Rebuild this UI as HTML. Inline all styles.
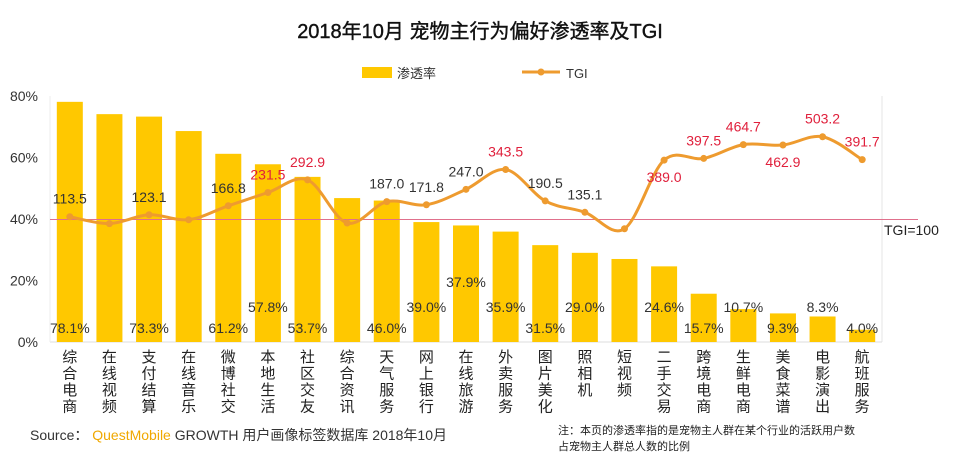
<!DOCTYPE html>
<html><head><meta charset="utf-8"><style>
body{margin:0;background:#fff;}
svg text{font-family:"Liberation Sans","Noto Sans CJK SC",sans-serif;}
</style></head><body>
<svg id="chart" width="960" height="458" viewBox="0 0 960 458" xmlns="http://www.w3.org/2000/svg">
<rect x="0" y="0" width="960" height="458" fill="#fff"/>
<text x="480" y="38" text-anchor="middle" font-size="20" fill="#111" stroke="#111" stroke-width="0.4">2018年10月 宠物主行为偏好渗透率及TGI</text>
<g>
<rect x="362" y="67" width="30" height="11" fill="#FFC800"/>
<text x="397" y="78" font-size="13" fill="#333">渗透率</text>
<line x1="522" y1="72" x2="560" y2="72" stroke="#EE9B2F" stroke-width="3"/>
<circle cx="541" cy="72" r="3.5" fill="#EE9B2F"/>
<text x="566" y="78" font-size="13" fill="#333">TGI</text>
</g>
<line x1="882" y1="96" x2="882" y2="342" stroke="#e6e6e6"/>
<line x1="50" y1="342" x2="882" y2="342" stroke="#ddd"/>
<line x1="50" y1="96" x2="50" y2="342" stroke="#eee"/>
<g id="yticks"></g>
<g id="bars"></g>
<line x1="50" y1="219.5" x2="918" y2="219.5" stroke="#E0708C" stroke-width="1"/>
<text x="884" y="235" font-size="14" fill="#222">TGI=100</text>
<g id="line"></g>
<g id="cats"></g>
<text x="30" y="440" font-size="14" fill="#333">Source： <tspan fill="#F0A800">QuestMobile</tspan> GROWTH 用户画像标签数据库 2018年10月</text>
<text x="558" y="434" font-size="11" fill="#222">注：本页的渗透率指的是宠物主人群在某个行业的活跃用户数</text>
<text x="558" y="450" font-size="11" fill="#222">占宠物主人群总人数的比例</text>
</svg>
<script>
const categories=["综合电商","在线视频","支付结算","在线音乐","微博社交","本地生活","社区交友","综合资讯","天气服务","网上银行","在线旅游","外卖服务","图片美化","照相机","短视频","二手交易","跨境电商","生鲜电商","美食菜谱","电影演出","航班服务"];
const penetration=[78.1,74.1,73.3,68.6,61.2,57.8,53.7,46.8,46.0,39.0,37.9,35.9,31.5,29.0,27.0,24.6,15.7,10.7,9.3,8.3,4.0];
const penLabels=["78.1%","","73.3%","","61.2%","57.8%","53.7%","","46.0%","39.0%","37.9%","35.9%","31.5%","29.0%","","24.6%","15.7%","10.7%","9.3%","8.3%","4.0%"];
const tgi=[113.5,80,123.1,99,166.8,231.5,292.9,83,187.0,171.8,247.0,343.5,190.5,135.1,55,389.0,397.5,464.7,462.9,503.2,391.7];
const tgiLabels=["113.5","","123.1","","166.8","231.5","292.9","","187.0","171.8","247.0","343.5","190.5","135.1","","389.0","397.5","464.7","462.9","503.2","391.7"];
const tgiRed=[0,0,0,0,0,1,1,0,0,0,0,1,0,0,0,1,1,1,1,1,1];
const yTicks=[0,20,40,60,80];
// label layout rows (style, not data)
const penRow=[0,0,0,0,0,1,0,0,0,1,2,1,0,1,0,1,0,1,0,1,0];
const tgiBelow=[0,0,0,0,0,0,0,0,0,0,0,0,0,0,0,1,0,0,1,0,0];

const NS="http://www.w3.org/2000/svg";
const x0=50,x1=882,yBase=342,yTop=96;
const step=(x1-x0)/categories.length;
const xc=i=>x0+step*(i+0.5);
const yP=v=>yBase-v/80*(yBase-yTop);
const yT=t=>219.5-(t-100)*0.2053;
function mk(tag,attrs,parent){const e=document.createElementNS(NS,tag);for(const k in attrs)e.setAttribute(k,attrs[k]);parent.appendChild(e);return e;}

const gt=document.getElementById('yticks');
yTicks.forEach(v=>{const t=mk('text',{x:38,y:yP(v)+5,'text-anchor':'end','font-size':14,fill:'#333'},gt);t.textContent=v+'%';

});

const gb=document.getElementById('bars');
penetration.forEach((v,i)=>{
 const r=mk('rect',{x:xc(i)-13,y:yP(v),width:26,height:yBase-yP(v),fill:'#FFC800'},gb);
 
 
 if(penLabels[i]){const ly=[333,312,287][penRow[i]];
  const t=mk('text',{x:xc(i),y:ly,'text-anchor':'middle','font-size':14,fill:'#333'},gb);t.textContent=penLabels[i];
  
  }
});

const gl=document.getElementById('line');
const pts=tgi.map((t,i)=>[xc(i),yT(t)]);
let d='M'+pts[0][0]+','+pts[0][1];
for(let i=0;i<pts.length-1;i++){const p0=pts[i-1]||pts[i],p1=pts[i],p2=pts[i+1],p3=pts[i+2]||p2;const k=6;
 d+=' C'+(p1[0]+(p2[0]-p0[0])/k)+','+(p1[1]+(p2[1]-p0[1])/k)+' '+(p2[0]-(p3[0]-p1[0])/k)+','+(p2[1]-(p3[1]-p1[1])/k)+' '+p2[0]+','+p2[1];}
const path=mk('path',{d:d,fill:'none',stroke:'#EE9B2F','stroke-width':3},gl);


pts.forEach((p,i)=>{
 const c=mk('circle',{cx:p[0],cy:p[1],r:3.5,fill:'#EE9B2F'},gl);
 
 
 if(tgiLabels[i]){const t=mk('text',{x:p[0],y:tgiBelow[i]?p[1]+22:p[1]-13,'text-anchor':'middle','font-size':14,fill:tgiRed[i]?'#E0203C':'#333'},gl);t.textContent=tgiLabels[i];
  
  }
});

const gc=document.getElementById('cats');
categories.forEach((c,i)=>{
 const t=mk('text',{x:xc(i),'text-anchor':'middle','font-size':15,fill:'#222'},gc);
 
 
 [...c].forEach((ch,j)=>{const s=mk('tspan',{x:xc(i),y:362+j*16.5},t);s.textContent=ch;});
});
</script>
</body></html>
